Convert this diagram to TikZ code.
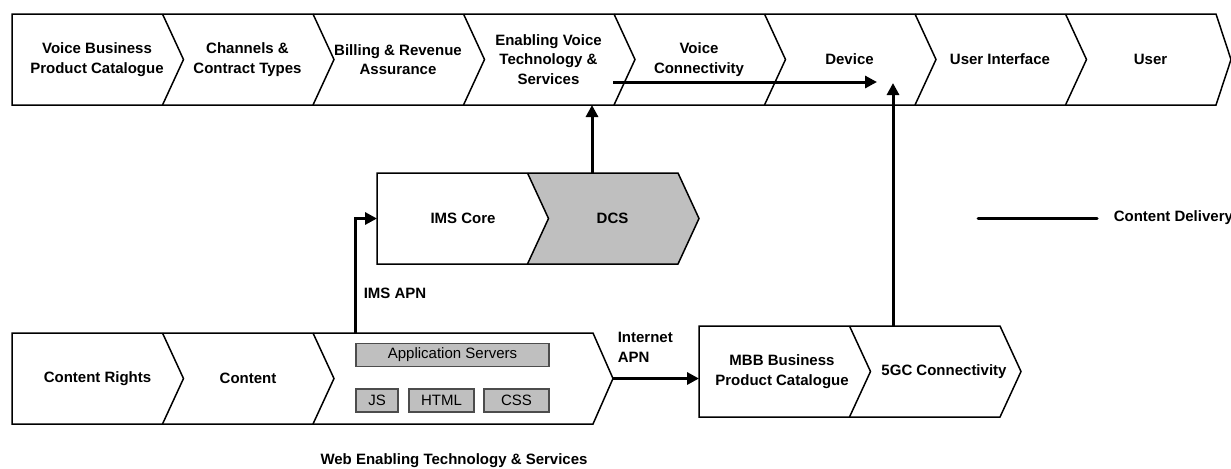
\documentclass[tikz,border=0pt]{standalone}
\usepackage{fontspec}
\setmainfont{Liberation Sans}
\usetikzlibrary{math,arrows.meta}

\tikzset{
  lbl/.style={font=\bfseries\fontsize{7.5}{9.7}\selectfont, align=center, inner sep=0pt},
  tag/.style={draw=black!70, fill=black!25, line width=0.7pt, inner sep=0pt,
    minimum height=11.5pt, font=\fontsize{7.5}{9}\selectfont},
  flow/.style={line width=1.5pt, -{Triangle[length=6pt,width=6pt]}},
}

\begin{document}
\begin{tikzpicture}[x=0.5pt, y=-0.5pt, line width=0.75pt]
  \tikzmath{\w = 150.5; \d = 21; \h = 91;}
  \useasboundingbox (0,0) rectangle (1231,468);

  % voice chain along the top
  \draw (12,14) -- (12+8*\w,14) -- (1231,14+\h/2) -- (12+8*\w,14+\h) -- (12,14+\h) -- cycle;
  \foreach \i in {1,...,7}
    \draw (12+\i*\w,14) -- ++(\d,\h/2) -- ++(-\d,\h/2);

  \node[lbl] (vbpc) at (12+85,59.5) {Voice Business\\Product Catalogue};
  \node[lbl] (chan) at (12+\w+85,59.5) {Channels \&\\Contract Types};
  \node[lbl] (bill) at (12+2*\w+85,59.5) {Billing \& Revenue\\Assurance};
  \node[lbl] (evts) at (12+3*\w+85,59.5) {Enabling Voice\\Technology \&\\Services};
  \node[lbl] (vconn) at (12+4*\w+85,59.5) {Voice\\Connectivity};
  \node[lbl] (dev) at (12+5*\w+85,59.5) {Device};
  \node[lbl] (ui) at (12+6*\w+85,59.5) {User Interface};
  \node[lbl] (user) at (12+7*\w+85,59.5) {User};

  % ims core and dcs
  \fill[black!25] (377+\w,173) -- ++(\d,\h/2) -- ++(-\d,\h/2) -- (377+2*\w,173+\h)
    -- ++(\d,-\h/2) -- (377+2*\w,173) -- cycle;
  \draw (377,173) -- (377+2*\w,173) -- ++(\d,\h/2) -- ++(-\d,\h/2) -- (377,173+\h) -- cycle;
  \draw (377+\w,173) -- ++(\d,\h/2) -- ++(-\d,\h/2);
  \node[lbl] (ims) at (377+86,218.5) {IMS Core};
  \node[lbl] (dcs) at (377+\w+85,218.5) {DCS};

  % web chain at the bottom
  \draw (12,333) -- (593,333) -- (613,333+\h/2) -- (593,333+\h) -- (12,333+\h) -- cycle;
  \draw (12+\w,333) -- ++(\d,\h/2) -- ++(-\d,\h/2);
  \draw (12+2*\w,333) -- ++(\d,\h/2) -- ++(-\d,\h/2);
  \node[lbl] (rights) at (97.5,378.5) {Content Rights};
  \node[lbl] (content) at (248,378.5) {Content};
  \node[tag, minimum width=96.5pt] (appsrv) at (452.5,355) {Application Servers};
  \node[tag, minimum width=21pt] (js) at (377,400.5) {JS};
  \node[tag, minimum width=32.5pt] (html) at (441.5,400.5) {HTML};
  \node[tag, minimum width=32.5pt] (css) at (516.5,400.5) {CSS};
  \node[lbl] (webtitle) at (454,461) {Web Enabling Technology \& Services};

  % mbb and 5gc
  \draw (699,326) -- (699+2*\w,326) -- ++(\d,\h/2) -- ++(-\d,\h/2) -- (699,326+\h) -- cycle;
  \draw (699+\w,326) -- ++(\d,\h/2) -- ++(-\d,\h/2);
  \node[lbl] (mbb) at (782,371.5) {MBB Business\\Product Catalogue};
  \node[lbl] (fivegc) at (944,371.5) {5GC Connectivity};

  % delivery paths
  \coordinate (vstart) at (613,82);
  \coordinate (vend) at (877,82);
  \coordinate (dcstop) at (592,173);
  \coordinate (evtsbot) at (592,105);
  \coordinate (webtop) at (355,333);
  \coordinate (imsin) at (377,218.5);
  \coordinate (webtip) at (613,378.5);
  \coordinate (mbbin) at (699,378.5);
  \coordinate (gctop) at (893,326);
  \coordinate (devbot) at (893,83);

  \draw[flow] (vstart) -- (vend);
  \draw[flow] (dcstop) -- (evtsbot);
  \draw[flow] (webtop) |- (imsin);
  \draw[flow] (webtip) -- (mbbin);
  \draw[flow] (gctop) -- (devbot);

  \node[lbl, anchor=west] (imsapn) at (363,293) {IMS APN};
  \node[lbl, anchor=west, align=left] (inetapn) at (617,347.5) {Internet\\APN};

  % legend
  \coordinate (lgstart) at (978,218);
  \coordinate (lgend) at (1097,218);
  \draw[line width=1.5pt, line cap=round] (lgstart) -- (lgend);
  \node[lbl, anchor=west] (legend) at (1113,218) {Content Delivery};
\end{tikzpicture}
\end{document}
